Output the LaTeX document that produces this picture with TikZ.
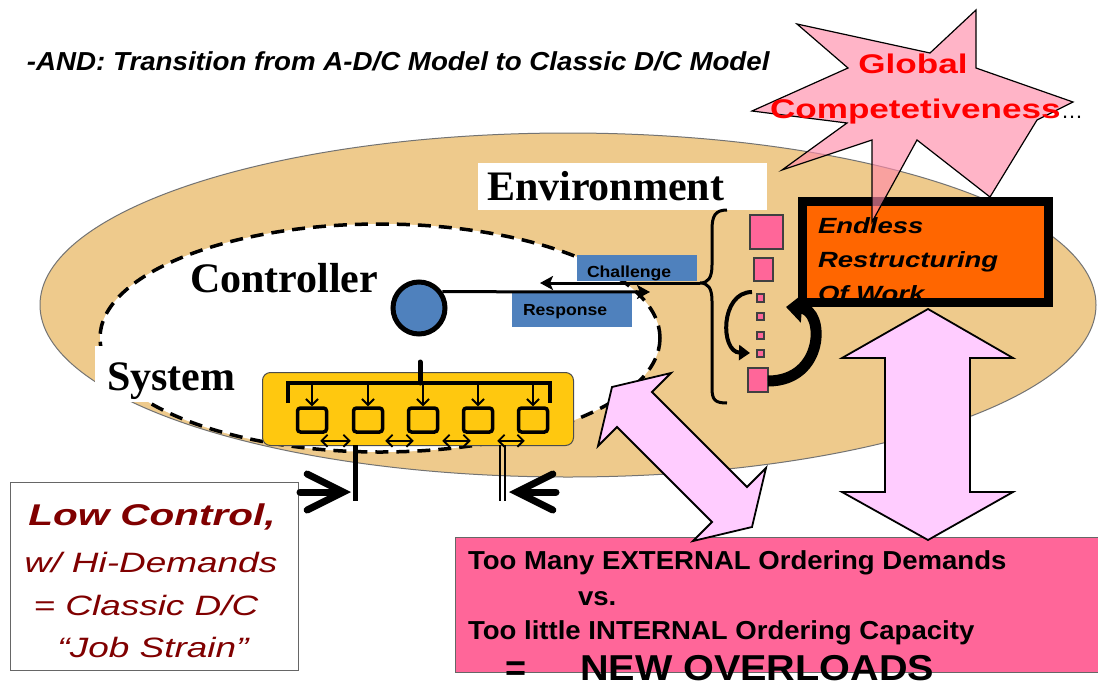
\documentclass[tikz,border=0pt]{standalone}
\usepackage{fontspec}
\setmainfont{Liberation Serif}
\setsansfont{Liberation Sans}
\usetikzlibrary{arrows.meta}
\definecolor{tanfill}{RGB}{238,202,140}
\definecolor{blueC}{RGB}{79,129,189}
\definecolor{pinkC}{RGB}{255,102,153}
\definecolor{orangeC}{RGB}{255,102,0}
\definecolor{yellowC}{RGB}{255,200,15}
\definecolor{lpinkC}{RGB}{255,204,255}
\definecolor{starC}{RGB}{255,140,170}
\definecolor{darkredC}{RGB}{128,0,0}
\definecolor{redC}{RGB}{255,0,0}
\newcommand\setfs[1]{\fontsize{#1pt}{#1pt}\selectfont}
\newcommand\wtext[2]{\scalebox{#1}[1]{#2}}
\begin{document}
\begin{tikzpicture}[x=1pt,y=-1pt,
  lbl/.style={inner sep=0pt, outer sep=0pt},
  serifbig/.style={lbl, font=\setfs{42}\rmfamily\bfseries},
  sansbold/.style={lbl, font=\setfs{26}\sffamily\bfseries},
  bluebox/.style={fill=blueC},
  psq/.style={draw=black!75, line width=1.2, fill=pinkC},
  sbox/.style={draw, line width=3.5, rounded corners=3, fill=yellowC, minimum width=29, minimum height=24, inner sep=0},
  downarr/.style={line width=1.8, -{Straight Barb[length=6pt,width=12pt]}},
  dblarr/.style={line width=1.8, {Straight Barb[length=6pt,width=12pt]}-{Straight Barb[length=6pt,width=12pt]}},
  bigarr/.style={line width=7, line cap=round, -{Straight Barb[length=36pt,width=36pt,line cap=round]}},
  msgarr/.style={line width=3, -{Stealth[length=13pt,width=14pt,inset=3pt]}},
  pinkarrow/.style={draw=black, line width=1.8, fill=lpinkC, line join=miter}
]
\useasboundingbox (0,0) rectangle (1098,686);
\fill[white] (0,0) rectangle (1098,686);

% title
\node[lbl, anchor=base west, font=\setfs{26}\sffamily\bfseries\itshape] (title) at (27,70)
  {\wtext{1.065}{-AND: Transition from A-D/C Model to Classic D/C Model}};

% big environment ellipse
\draw[draw=black!55, line width=1, fill=tanfill] (568,305) ellipse [x radius=528, y radius=172];

% system ellipse (dashed)
\draw[line width=3.5, dash pattern=on 13pt off 8pt, fill=white] (380,338) ellipse [x radius=280, y radius=114];

% Environment label
\fill[white] (478,163) rectangle (767,210);
\node[serifbig, anchor=base west] (envlabel) at (487,200) {Environment};

% System label
\fill[white] (95,346) rectangle (250,402);
\node[serifbig, anchor=base west] (syslabel) at (107,390) {System};

% Controller label
\node[serifbig, anchor=base west] (ctrllabel) at (190,292) {Controller};

% Challenge / Response boxes
\fill[bluebox] (577,255) rectangle (697,281);
\node[lbl, anchor=base west, font=\setfs{16}\sffamily\bfseries] (chal) at (587,277) {\wtext{1.1}{Challenge}};
\fill[bluebox] (512,293) rectangle (632,327);
\node[lbl, anchor=base west, font=\setfs{16}\sffamily\bfseries] (resp) at (523,315) {\wtext{1.1}{Response}};

% controller circle and message lines
\node[circle, draw, line width=5, fill=blueC, minimum size=52, inner sep=0] (ctrl) at (419,308) {};
\coordinate (respend) at (650,292);
\coordinate (bracetip) at (700,283);
\coordinate (chalend) at (540,283);
\draw[msgarr] (ctrl.35) -- (respend);
\draw[msgarr] (bracetip) -- (chalend);

% brace
\draw[line width=3] (727,210) .. controls (715,210) and (712,216) .. (712,230) -- (712,265)
  .. controls (712,278) and (708,283) .. (bracetip)
  .. controls (708,283) and (712,288) .. (712,301) -- (712,388)
  .. controls (712,400) and (715,403) .. (727,403);

% environment elements (pink squares)
\draw[psq] (750,215) rectangle (783,249);
\draw[psq] (754,258) rectangle (773,281);
\draw[psq] (757,294) rectangle (764,302);
\draw[psq] (757,313) rectangle (764,320);
\draw[psq] (757,332) rectangle (764,339);
\draw[psq] (757,350) rectangle (764,357);
\draw[psq] (748,368) rectangle (768,392);

% curved arrows
\draw[line width=4, -{Triangle[length=11pt,width=15pt]}] (752,292) .. controls (720,292) and (720,352) .. (750,353);
\draw[line width=11, -{Triangle[length=16pt,width=28pt]}] (768,381) .. controls (825,381) and (825,310) .. (786,307);

% orange box
\fill[orangeC] (803,202) rectangle (1049,302);
\node[lbl, anchor=base west, font=\setfs{22}\sffamily\bfseries\itshape] (endl1) at (818,233) {\wtext{1.25}{Endless}};
\node[lbl, anchor=base west, font=\setfs{22}\sffamily\bfseries\itshape] (endl2) at (818,267) {\wtext{1.25}{Restructuring}};
\node[lbl, anchor=base west, font=\setfs{22}\sffamily\bfseries\itshape] (endl3) at (818,301) {\wtext{1.25}{Of Work}};
\draw[black, line width=9] (802.5,201.5) rectangle (1048.5,302.5);

% star
\fill[starC, opacity=0.65] (797,24) -- (930,53) -- (976,10) -- (976,68) -- (1073,102) -- (1037,120)
  -- (990,197) -- (917,140) -- (872,222) -- (872,140) -- (782,170) -- (847,123) -- (752,111)
  -- (848,68) -- cycle;
\draw[black, line width=1.2, line join=miter] (797,24) -- (930,53) -- (976,10) -- (976,68) -- (1073,102) -- (1037,120)
  -- (990,197) -- (917,140) -- (872,222) -- (872,140) -- (782,170) -- (847,123) -- (752,111)
  -- (848,68) -- cycle;
\node[lbl, anchor=base, font=\setfs{27}\sffamily\bfseries, text=redC] (glob1) at (913,73) {\wtext{1.3}{Global}};
\node[lbl, anchor=base west, font=\setfs{27}\sffamily\bfseries, text=redC] (glob2) at (770,118) {\wtext{1.3}{Competetiveness}};
\node[lbl, anchor=base west, font=\setfs{22}\sffamily] (dots) at (1061,118) {\dots};

% yellow system box
\node[draw=black!70, line width=1, fill=yellowC, rounded corners=8, minimum width=311, minimum height=73, anchor=north west, inner sep=0] (ybox) at (262,372) {};
\node[sbox] (u1) at (312,420) {};
\node[sbox] (u2) at (368,420) {};
\node[sbox] (u3) at (423,420) {};
\node[sbox] (u4) at (478,420) {};
\node[sbox] (u5) at (533,420) {};
\coordinate (stemtop) at (420,362);
\coordinate (stembot) at (420,383);
\draw[line width=5, line cap=round] (stemtop) -- (stembot);
\draw[line width=4.5] (288,403) -- (288,383) -- (550,383) -- (550,403);
\foreach \i in {1,...,5} {
  \draw[downarr] (u\i.north |- stembot) -- (u\i.north);
}
\draw[dblarr] ([shift={(-8,7)}]u1.south east) -- ([shift={(-1,7)}]u2.south west);
\draw[dblarr] ([shift={(1,7)}]u2.south east) -- ([shift={(7,7)}]u3.south west);
\draw[dblarr] ([shift={(3,7)}]u3.south east) -- ([shift={(9,7)}]u4.south west);
\draw[dblarr] ([shift={(3,7)}]u4.south east) -- ([shift={(8,7)}]u5.south west);

% bars below the system box
\coordinate (lbartop) at (355,445);
\coordinate (lbarbot) at (355,501);
\draw[line width=5] (lbartop) -- (lbarbot);
\draw[line width=1.5] (500,445) -- (500,501);
\draw[line width=1.5] (505,445) -- (505,501);

% Low control box
\node[draw=black!60, line width=1, fill=white, minimum width=288, minimum height=188, anchor=north west, inner sep=0] (lowbox) at (10,482) {};
\node[lbl, anchor=base, font=\setfs{30}\sffamily\bfseries\itshape, text=darkredC] (lc1) at (152,525) {\wtext{1.35}{Low Control,}};
\node[lbl, anchor=base, font=\setfs{28}\sffamily\itshape, text=darkredC] (lc2) at (151,572) {\wtext{1.32}{w/ Hi-Demands}};
\node[lbl, anchor=base, font=\setfs{28}\sffamily\itshape, text=darkredC] (lc3) at (146,615) {\wtext{1.32}{= Classic D/C}};
\node[lbl, anchor=base, font=\setfs{28}\sffamily\itshape, text=darkredC] (lc4) at (153,657) {\wtext{1.32}{``Job Strain''}};

% converging arrows
\coordinate (la0) at (300,492);
\coordinate (la1) at (351,492);
\coordinate (ra0) at (556,492);
\coordinate (ra1) at (509,492);
\draw[bigarr] (la0) -- (la1);
\draw[bigarr] (ra0) -- (ra1);

% bottom pink box
\draw[draw=black!60, line width=1, fill=pinkC] (455,537) rectangle (1104,672);
\node[sansbold, anchor=base west] (t1) at (468,569) {\wtext{1.06}{Too Many EXTERNAL Ordering Demands}};
\node[sansbold, anchor=base west] (t2) at (578,605) {\wtext{1.06}{vs.}};
\node[sansbold, anchor=base west] (t3) at (468,639) {\wtext{1.06}{Too little INTERNAL Ordering Capacity}};
\node[lbl, anchor=base, font=\setfs{36}\sffamily\bfseries] (t4a) at (516,680) {=};
\node[lbl, anchor=base west, font=\setfs{36}\sffamily\bfseries] (t4b) at (580,680) {\wtext{1.1}{NEW OVERLOADS}};

% pink double arrows
\draw[pinkarrow] (612,387) -- (671,373) -- (652,392) -- (747,487) -- (766,468) -- (752,527)
  -- (693,541) -- (712,522) -- (617,427) -- (598,446) -- cycle;
\draw[pinkarrow] (928,309) -- (1013,358) -- (970,358) -- (970,492) -- (1013,492) -- (928,540)
  -- (842,492) -- (885,492) -- (885,358) -- (842,358) -- cycle;
\end{tikzpicture}
\end{document}
